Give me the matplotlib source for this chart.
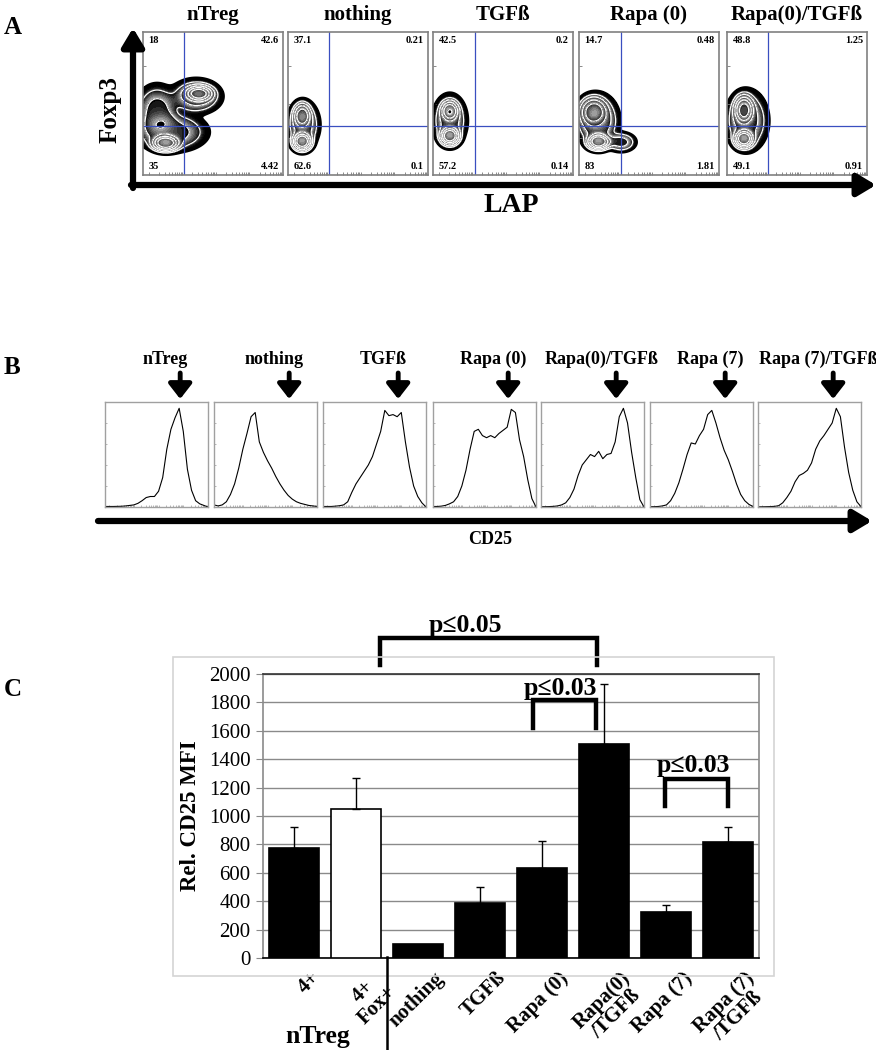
import numpy as np
import matplotlib.pyplot as plt
from matplotlib.patches import Rectangle

W, H = 876, 1050
plt.rcParams['font.family'] = ['Liberation Serif', 'DejaVu Serif']

# ---- panel A data (Foxp3 vs LAP) ----
a_titles = ['nTreg', 'nothing', 'TGFß', 'Rapa (0)', 'Rapa(0)/TGFß']
# quadrant percentages: upper-left, upper-right, lower-left, lower-right
a_quads = [('18', '42.6', '35', '4.42'),
           ('37.1', '0.21', '62.6', '0.1'),
           ('42.5', '0.2', '57.2', '0.14'),
           ('14.7', '0.48', '83', '1.81'),
           ('48.8', '1.25', '49.1', '0.91')]
a_gate_x = [0.29, 0.29, 0.30, 0.30, 0.29]
a_gate_y = [0.34, 0.34, 0.34, 0.34, 0.34]
# populations: (center x, center y, spread x, spread y, weight) - envelopes then peaks
a_pops = [
    [(0.20, 0.30, 0.17, 0.09, 0.35), (0.38, 0.55, 0.12, 0.08, 0.35),
     (0.10, 0.45, 0.10, 0.12, 0.33),
     (0.16, 0.22, 0.07, 0.04, 1.0), (0.40, 0.57, 0.07, 0.04, 0.85)],
    [(0.11, 0.35, 0.075, 0.11, 0.35),
     (0.10, 0.23, 0.05, 0.045, 1.0), (0.10, 0.42, 0.045, 0.06, 0.6)],
    [(0.12, 0.38, 0.08, 0.12, 0.35),
     (0.12, 0.27, 0.05, 0.045, 1.0), (0.12, 0.45, 0.045, 0.05, 0.7)],
    [(0.13, 0.38, 0.10, 0.12, 0.4), (0.30, 0.23, 0.07, 0.045, 0.3),
     (0.14, 0.23, 0.06, 0.04, 1.0), (0.10, 0.45, 0.07, 0.07, 0.55)],
    [(0.14, 0.38, 0.10, 0.14, 0.35),
     (0.12, 0.25, 0.05, 0.045, 1.0), (0.12, 0.46, 0.05, 0.07, 0.8)],
]

# ---- panel B data (CD25 histograms) ----
b_titles = ['nTreg', 'nothing', 'TGFß', 'Rapa (0)', 'Rapa(0)/TGFß', 'Rapa (7)', 'Rapa (7)/TGFß']
b_bins = np.linspace(0, 1, 26)
b_counts = [
    [0.005, 0.005, 0.005, 0.006, 0.007, 0.01, 0.015, 0.02, 0.035, 0.06, 0.09, 0.1, 0.1,
     0.15, 0.28, 0.55, 0.74, 0.85, 0.94, 0.72, 0.36, 0.16, 0.06, 0.03, 0.015, 0.0],
    [0.02, 0.01, 0.02, 0.05, 0.12, 0.22, 0.37, 0.55, 0.7, 0.86, 0.9, 0.62, 0.52,
     0.44, 0.37, 0.29, 0.22, 0.16, 0.11, 0.075, 0.05, 0.035, 0.025, 0.015, 0.01, 0.005],
    [0.005, 0.005, 0.005, 0.008, 0.012, 0.02, 0.05, 0.14, 0.22, 0.28, 0.34, 0.4, 0.48,
     0.6, 0.72, 0.92, 0.87, 0.88, 0.86, 0.9, 0.62, 0.38, 0.2, 0.1, 0.04, 0.0],
    [0.005, 0.005, 0.008, 0.015, 0.03, 0.05, 0.1, 0.2, 0.35, 0.55, 0.72, 0.74, 0.68,
     0.66, 0.68, 0.66, 0.7, 0.73, 0.76, 0.93, 0.9, 0.64, 0.48, 0.26, 0.08, 0.0],
    [0.003, 0.003, 0.004, 0.006, 0.01, 0.02, 0.04, 0.09, 0.17, 0.3, 0.4, 0.45, 0.5,
     0.48, 0.53, 0.46, 0.5, 0.51, 0.62, 0.86, 0.94, 0.8, 0.52, 0.28, 0.07, 0.0],
    [0.003, 0.003, 0.005, 0.01, 0.02, 0.06, 0.13, 0.23, 0.36, 0.5, 0.61, 0.6, 0.68,
     0.74, 0.88, 0.92, 0.8, 0.66, 0.54, 0.45, 0.34, 0.22, 0.12, 0.06, 0.025, 0.005],
    [0.002, 0.002, 0.003, 0.004, 0.006, 0.012, 0.04, 0.09, 0.15, 0.24, 0.3, 0.32, 0.35,
     0.42, 0.55, 0.63, 0.68, 0.74, 0.8, 0.94, 0.86, 0.57, 0.33, 0.16, 0.05, 0.003],
]

# ---- panel C data (Rel. CD25 MFI) ----
c_labels = ['4+', '4+\nFox+', 'nothing', 'TGFß', 'Rapa (0)', 'Rapa(0)\n/TGFß', 'Rapa (7)', 'Rapa (7)\n/TGFß']
c_values = [775, 1050, 100, 385, 635, 1510, 325, 820]
c_errors = [145, 220, 0, 115, 190, 420, 45, 105]
c_colors = ['black', 'white', 'black', 'black', 'black', 'black', 'black', 'black']


def px_axes(fig, x0, y0, x1, y1):
    return fig.add_axes([x0 / W, 1 - y1 / H, (x1 - x0) / W, (y1 - y0) / H])


fig = plt.figure(figsize=(W / 100, H / 100), dpi=100)
fig.patch.set_facecolor('white')

# ---------------- panel A ----------------
gx = np.linspace(0, 1, 281)
GX, GY = np.meshgrid(gx, gx)
band_edges = [0.03, 0.11, 0.22, 0.4, 0.6, 0.8, 1.01]
levels, grays = [], []
for i in range(len(band_edges) - 1):
    sub = np.linspace(band_edges[i], band_edges[i + 1], 9)[:-1]
    levels.extend(sub)
    if i == 0:
        grays.extend([str(round(g, 2)) for g in [0, 0, 0, 0, 0.03, 0.08, 0.15, 0.25]])
    else:
        grays.extend([str(round(g, 2)) for g in np.linspace(0.0, 0.62, 8)])
levels.append(1.02)

a_left = [143, 288, 433, 579, 727]
log_ticks = [0.04 + 0.24 * (d + np.log10(k)) for d in range(4) for k in range(1, 10)]
log_ticks = [t for t in log_ticks if t < 0.99]
for i in range(5):
    ax = px_axes(fig, a_left[i], 32, a_left[i] + 140, 175)
    dens = np.zeros_like(GX)
    for cx, cy, sx, sy, w in a_pops[i]:
        r2 = ((GX - cx) / sx) ** 2 + ((GY - cy) / sy) ** 2
        dens += w * np.exp(-0.5 * r2 ** 1.5)
    dens = dens / dens.max()
    ax.contourf(GX, GY, dens, levels=levels, colors=grays)
    ax.contour(GX, GY, dens, levels=band_edges[1:-1], colors='white', linewidths=0.9)
    ax.contour(GX, GY, dens, levels=[band_edges[0]], colors='black', linewidths=1.5)
    ax.axvline(a_gate_x[i], color='#3a4fc0', lw=0.9)
    ax.axhline(a_gate_y[i], color='#3a4fc0', lw=0.9)
    ax.set_xlim(0, 1)
    ax.set_ylim(0, 1)
    ax.set_xticks(log_ticks)
    ax.set_yticks([0.26, 0.5, 0.76])
    ax.set_xticklabels([])
    ax.set_yticklabels([])
    ax.tick_params(direction='in', length=2, width=0.6, color='#777777')
    for s in ax.spines.values():
        s.set_color('#808080')
        s.set_linewidth(1.2)
    ul, ur, ll, lr = a_quads[i]
    fs = 7.5
    ax.text(0.04, 0.97, ul, ha='left', va='top', fontsize=fs, fontweight='bold', transform=ax.transAxes, zorder=6)
    ax.text(0.97, 0.97, ur, ha='right', va='top', fontsize=fs, fontweight='bold', transform=ax.transAxes, zorder=6)
    ax.text(0.04, 0.03, ll, ha='left', va='bottom', fontsize=fs, fontweight='bold', transform=ax.transAxes, zorder=6)
    ax.text(0.97, 0.03, lr, ha='right', va='bottom', fontsize=fs, fontweight='bold', transform=ax.transAxes, zorder=6)

# ---------------- panel B ----------------
b_left = [105, 214, 323, 433, 541, 650, 758]
for i in range(7):
    ax = px_axes(fig, b_left[i], 402, b_left[i] + 103, 507)
    ax.plot(b_bins, b_counts[i], color='black', lw=0.8)
    ax.set_xlim(0, 1)
    ax.set_ylim(0, 1.0)
    ax.set_xticks(log_ticks)
    ax.set_yticks([0.2, 0.4, 0.6, 0.8])
    ax.set_xticklabels([])
    ax.set_yticklabels([])
    ax.tick_params(direction='in', length=1.5, width=0.5, color='#999999')
    for s in ax.spines.values():
        s.set_color('#a0a0a0')
        s.set_linewidth(1.0)

# ---------------- panel C ----------------
ax = px_axes(fig, 263, 674, 759, 958)
x = np.arange(len(c_values))
ax.bar(x, c_values, width=0.81, color=c_colors, edgecolor='black', linewidth=1.2, zorder=3)
ex = [xi for xi, e in zip(x, c_errors) if e > 0]
ev = [v for v, e in zip(c_values, c_errors) if e > 0]
ee = [e for e in c_errors if e > 0]
ax.errorbar(ex, ev, yerr=[np.zeros(len(ee)), ee], fmt='none', ecolor='black',
            elinewidth=1.0, capsize=3, capthick=1.0, zorder=4)
ax.set_xlim(-0.5, 7.5)
ax.set_ylim(0, 2000)
ax.set_yticks(np.arange(0, 2001, 200))
ax.yaxis.grid(True, color='#8a8a8a', lw=1.0, zorder=0)
ax.set_axisbelow(True)
ax.set_xticks([])
ax.tick_params(axis='y', labelsize=15, length=5, color='#8a8a8a', pad=4)
ax.spines['left'].set_color('#8a8a8a')
ax.spines['right'].set_color('#8a8a8a')
ax.spines['top'].set_color('#333333')
ax.spines['bottom'].set_color('black')
for s in ax.spines.values():
    s.set_linewidth(1.2)
ax.set_ylabel('Rel. CD25 MFI', fontsize=16.5, fontweight='bold', labelpad=6)
for xi, lab in zip(x, c_labels):
    ax.text(xi + 0.26, -0.035, lab, transform=ax.get_xaxis_transform(), rotation=45,
            ha='right', va='top', rotation_mode='anchor', fontsize=15, fontweight='bold',
            multialignment='center', linespacing=1.0)

# significance brackets
brackets = [(1.39, 4.89, 2253, 2063, 'p≤0.05', 2.76, 2345),
            (3.85, 4.87, 1816, 1620, 'p≤0.03', 4.29, 1901),
            (5.98, 7.0, 1260, 1070, 'p≤0.03', 6.44, 1359)]
for x1, x2, ytop, yleg, lab, tx, ty in brackets:
    ax.plot([x1, x1, x2, x2], [yleg, ytop, ytop, yleg], color='black', lw=3.2,
            clip_on=False, solid_joinstyle='miter', zorder=6)
    ax.text(tx, ty, lab, ha='center', va='center', fontsize=18.5, fontweight='bold', zorder=6,
            clip_on=False)

# ---------------- overlay: labels, arrows, frames ----------------
ov = fig.add_axes([0, 0, 1, 1])
ov.set_xlim(0, W)
ov.set_ylim(H, 0)
ov.axis('off')
ov.patch.set_alpha(0)

arrow = dict(arrowstyle='-|>,head_length=0.5,head_width=0.3', lw=4.5, color='black',
             shrinkA=0, shrinkB=0, mutation_scale=22)
ov.annotate('', xy=(133, 28), xytext=(133, 188), arrowprops=arrow)
ov.annotate('', xy=(876, 185), xytext=(131, 185), arrowprops=arrow)
ov.annotate('', xy=(872, 521), xytext=(98, 521), arrowprops=arrow)

ov.text(4, 28, 'A', fontsize=18, fontweight='bold', ha='left', va='center')
ov.text(4, 368, 'B', fontsize=18, fontweight='bold', ha='left', va='center')
ov.text(4, 690, 'C', fontsize=18, fontweight='bold', ha='left', va='center')
ov.text(110, 110, 'Foxp3', fontsize=18, fontweight='bold', rotation=90, ha='center', va='center')
ov.text(511, 205, 'LAP', fontsize=20, fontweight='bold', ha='center', va='center')
ov.text(490, 540, 'CD25', fontsize=13, fontweight='bold', ha='center', va='center')

for i in range(5):
    ov.text(a_left[i] + 70, 15, a_titles[i], fontsize=15, fontweight='bold', ha='center', va='center')

small_arrow = dict(arrowstyle='-|>,head_length=0.45,head_width=0.35', lw=3.5, color='black',
                   shrinkA=0, shrinkB=0, mutation_scale=20)
for i in range(7):
    axx = b_left[i] + 0.73 * 103
    ov.annotate('', xy=(axx, 399), xytext=(axx, 373), arrowprops=small_arrow)
    ov.text(axx - 15, 359, b_titles[i], fontsize=13, fontweight='bold', ha='center', va='center')

ov.add_patch(Rectangle((173, 657), 601, 319, fill=False, edgecolor='#d4d4d4', lw=1.2))
ov.plot([387, 387], [957, 1050], color='black', lw=1.8)
ov.text(318, 1036, 'nTreg', fontsize=18.5, fontweight='bold', ha='center', va='center')

fig.savefig('out.png', dpi=100)
